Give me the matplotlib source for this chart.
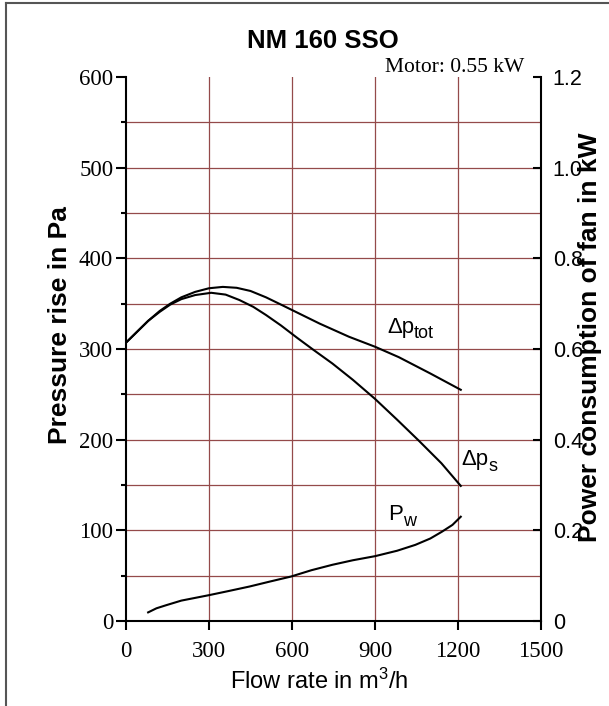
import matplotlib
matplotlib.use("Agg")
import matplotlib.pyplot as plt
from matplotlib.lines import Line2D

plt.rcParams['mathtext.fontset'] = 'custom'
plt.rcParams['mathtext.rm'] = 'Liberation Sans'
plt.rcParams['mathtext.it'] = 'Liberation Sans'
SANS = 'Liberation Sans'
SERIF = 'Liberation Serif'

# curve data
flow_tot = [0, 40, 80, 122, 160, 200, 250, 300, 350, 400, 450, 506, 560, 620, 700,
            806, 900, 986, 1100, 1210]
dp_tot = [307, 319, 331, 342, 350, 357, 363, 367, 368.5, 367.5, 364, 357, 349, 340, 328,
          313.5, 302.5, 291, 273, 255]

flow_s = [0, 40, 80, 122, 160, 200, 250, 308, 360, 410, 460, 506, 560, 620, 680, 746,
          820, 900, 980, 1058, 1140, 1210]
dp_s = [307, 319, 331, 341, 349, 355, 359.5, 362, 360, 354, 346.5, 337.5, 326, 312, 298.5,
        284, 266, 245, 222, 199, 174, 149]

flow_pw = [80, 110, 146, 200, 250, 300, 370, 446, 520, 596, 670, 746, 820, 900, 980,
           1046, 1100, 1142, 1180, 1210]
pw_kw = [0.019, 0.028, 0.035, 0.045, 0.051, 0.057, 0.066, 0.076, 0.087, 0.098, 0.112,
         0.124, 0.134, 0.143, 0.155, 0.168, 0.182, 0.197, 0.212, 0.23]

x_ticks = [0, 300, 600, 900, 1200, 1500]
y_ticks = [0, 100, 200, 300, 400, 500, 600]
kw_ticks = [0, 0.2, 0.4, 0.6, 0.8, 1.0, 1.2]
kw_labels = ['0', '0.2', '0.4', '0.6', '0.8', '1.0', '1.2']

grid_col = '#944a4a'

fig = plt.figure(figsize=(6.09, 7.06), dpi=100)
ax = fig.add_axes([126/609, 1-621/706, 415/609, 544/706])
ax.set_xlim(0, 1500)
ax.set_ylim(0, 600)

# grid
for gx in x_ticks[1:-1]:
    ax.plot([gx, gx], [0, 600], color=grid_col, lw=0.9, zorder=1)
for gy in range(50, 600, 50):
    ax.plot([0, 1500], [gy, gy], color=grid_col, lw=0.9, zorder=1)

ax.plot(flow_tot, dp_tot, color='black', lw=1.5, zorder=3)
ax.plot(flow_s, dp_s, color='black', lw=1.5, zorder=3)

for s in ['top', 'right']:
    ax.spines[s].set_visible(False)
for s in ['left', 'bottom']:
    ax.spines[s].set_linewidth(1.5)

ax.set_xticks(x_ticks)
ax.set_xticklabels([str(v) for v in x_ticks], family=SERIF, fontsize=16.5)
ax.set_yticks(y_ticks)
ax.set_yticklabels([str(v) for v in y_ticks], family=SERIF, fontsize=16.5)
ax.set_yticks(range(50, 600, 100), minor=True)
ax.tick_params(axis='y', which='major', direction='out', length=7.2, width=1.5, pad=2)
ax.tick_params(axis='y', which='minor', direction='out', length=3.6, width=1.5)
ax.tick_params(axis='x', which='major', direction='out', length=6.5, width=1.5, pad=8)

ax2 = ax.twinx()
ax2.set_ylim(0, 1.2)
ax2.plot(flow_pw, pw_kw, color='black', lw=1.5, zorder=3)
for s in ['top', 'left', 'bottom']:
    ax2.spines[s].set_visible(False)
ax2.spines['right'].set_linewidth(1.5)
ax2.set_yticks(kw_ticks)
ax2.set_yticklabels(kw_labels, family=SANS, fontsize=15.5)
ax2.tick_params(axis='y', direction='in', length=6, width=1.5, pad=8.5)


def sub_label(x, y, main, sub, dy=-4):
    t = ax.text(x, y, main, family=SANS, fontsize=16, va='baseline', ha='left', zorder=4)
    fig.canvas.draw()
    w = t.get_window_extent().width * 72 / fig.dpi
    ax.annotate(sub, xy=(x, y), xycoords='data', xytext=(w, dy),
                textcoords='offset points', family=SANS, fontsize=13,
                va='baseline', ha='left', zorder=4)


sub_label(943, 318, '\u0394p', 'tot')
sub_label(1213, 172, '\u0394p', 's')
sub_label(947, 111, 'P', 'w')

ax.text(1440, 605, 'Motor: 0.55 kW', family=SERIF, fontsize=15.5,
        ha='right', va='baseline', clip_on=False)

fig.text(323/609, 1-41/706, 'NM 160 SSO', family=SANS, fontsize=18.5,
         fontweight='bold', ha='center', va='center')
fig.text(60/609, 1-325/706, 'Pressure rise in Pa', family=SANS, fontsize=19,
         fontweight='bold', rotation=90, ha='center', va='center')
fig.text(590/609, 1-337/706, 'Power consumption of fan in kW', family=SANS,
         fontsize=19, fontweight='bold', rotation=90, ha='center', va='center')
fig.text(319/609, 1-681/706, r'Flow rate in m$^3$/h', family=SANS, fontsize=17,
         ha='center', va='center')

# outer frame (left and top edges visible)
fig.add_artist(Line2D([6/609, 6/609], [0, 1-3/706], color='#555555', lw=1.5,
                      transform=fig.transFigure))
fig.add_artist(Line2D([6/609, 1], [1-3/706, 1-3/706], color='#555555', lw=1.5,
                      transform=fig.transFigure))

fig.savefig('out.png', dpi=100)
